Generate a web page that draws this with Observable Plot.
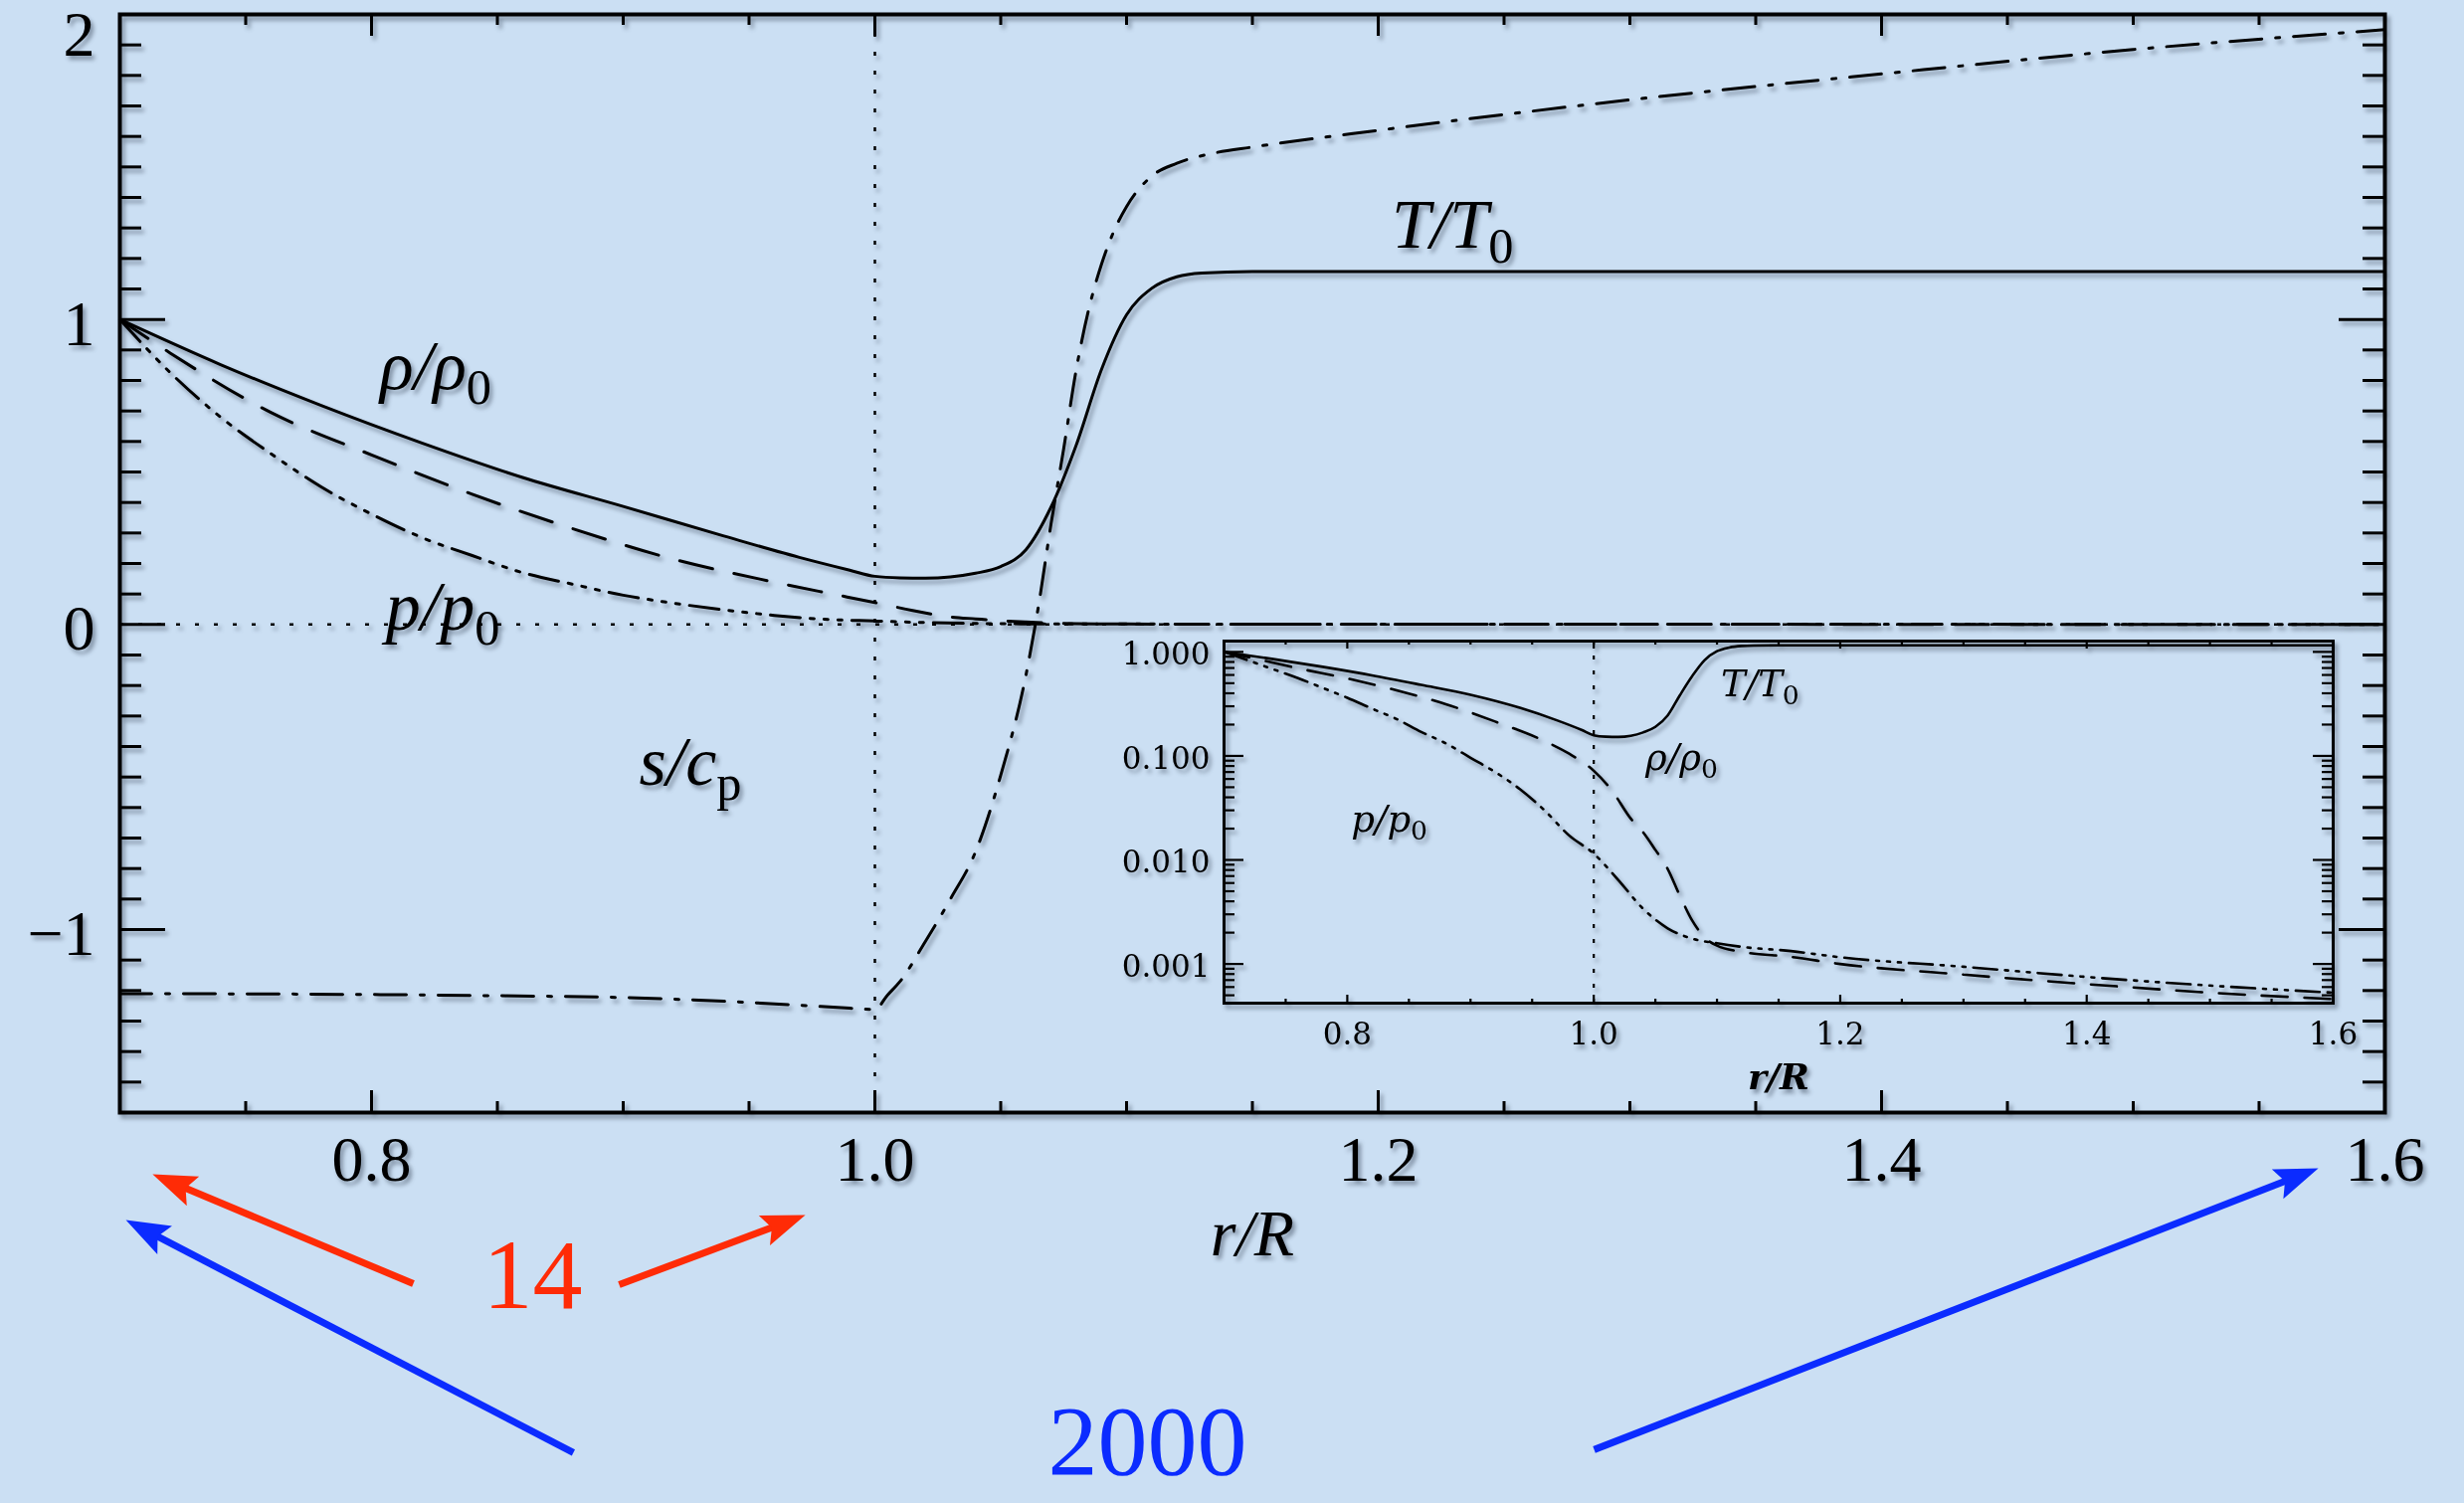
<!DOCTYPE html>
<html>
<head>
<meta charset="utf-8">
<script src="https://cdn.jsdelivr.net/npm/d3@7"></script>
<script src="https://cdn.jsdelivr.net/npm/@observablehq/plot@0.6"></script>
<style>
  html, body { margin: 0; padding: 0; background: #cbdff3; overflow: hidden; }
  #chart { position: relative; width: 2477px; height: 1511px; }
  #chart svg { position: absolute; overflow: visible; }
  .shadowed { filter: drop-shadow(3px 4px 2px rgba(25, 35, 55, 0.42)); }
</style>
</head>
<body>
<div id="chart"></div>
<script>
// Radial profiles against r/R: temperature, density, pressure (normalised) and entropy
const rT     = [0.70, 0.74, 0.78, 0.82, 0.86, 0.90, 0.94, 0.97, 0.99, 1.00, 1.01, 1.02, 1.03, 1.04, 1.05, 1.06, 1.07, 1.08, 1.09, 1.10, 1.11, 1.12, 1.13, 1.15, 1.60];
const tempT  = [1.000, 0.852, 0.718, 0.595, 0.482, 0.387, 0.290, 0.220, 0.178, 0.158, 0.153, 0.152, 0.156, 0.168, 0.190, 0.245, 0.385, 0.588, 0.835, 1.015, 1.102, 1.140, 1.152, 1.157, 1.157];

const rRho   = [0.70, 0.72, 0.76, 0.80, 0.84, 0.88, 0.92, 0.96, 0.98, 1.00, 1.015, 1.03, 1.04, 1.05, 1.06, 1.07, 1.08, 1.09, 1.10, 1.12, 1.16, 1.20, 1.30, 1.40, 1.50, 1.60];
const rho    = [1.000, 0.890, 0.695, 0.556, 0.427, 0.314, 0.214, 0.139, 0.105, 0.072, 0.046, 0.025, 0.0185, 0.0125, 0.0082, 0.0045, 0.0026, 0.0018, 0.00150, 0.00131, 0.00117, 0.00100, 0.00079, 0.00064, 0.00053, 0.00046];

const rP     = [0.70, 0.72, 0.74, 0.76, 0.78, 0.80, 0.82, 0.84, 0.86, 0.88, 0.90, 0.92, 0.94, 0.96, 0.98, 1.00, 1.02, 1.04, 1.06, 1.08, 1.10, 1.12, 1.16, 1.20, 1.30, 1.40, 1.50, 1.60];
const pres   = [1.000, 0.826, 0.680, 0.560, 0.451, 0.362, 0.285, 0.226, 0.170, 0.132, 0.096, 0.070, 0.048, 0.030, 0.0172, 0.0115, 0.0064, 0.0034, 0.0022, 0.00175, 0.00158, 0.00146, 0.00133, 0.00116, 0.00094, 0.00075, 0.00062, 0.00053];

const rS     = [0.70, 0.80, 0.85, 0.90, 0.94, 0.97, 0.99, 1.00, 1.005, 1.01, 1.02, 1.03, 1.04, 1.05, 1.06, 1.065, 1.07, 1.075, 1.08, 1.085, 1.09, 1.095, 1.10, 1.11, 1.12, 1.135, 1.15, 1.20, 1.30, 1.40, 1.50, 1.60];
const entropy = [-1.210, -1.213, -1.217, -1.223, -1.235, -1.248, -1.258, -1.262, -1.215, -1.170, -1.040, -0.900, -0.745, -0.494, -0.167, 0.060, 0.330, 0.575, 0.835, 1.034, 1.180, 1.290, 1.370, 1.470, 1.512, 1.546, 1.565, 1.620, 1.720, 1.805, 1.885, 1.950];

// Tick values
const xMajor   = [0.8, 1.0, 1.2, 1.4, 1.6];
const yMajor   = [-1, 0, 1, 2];
const logMajor = [0.001, 0.01, 0.1, 1];

// Curve labels
const mainLabels  = [
  {x: 0.8255, y: 0.846,  label: "ρ/ρ_0"},
  {x: 1.2295, y: 1.310,  label: "T/T_0"},
  {x: 0.8283, y: 0.056,  label: "p/p_0"},
  {x: 0.9267, y: -0.452, label: "s/c_p"}
];
const insetLabels = [
  {x: 1.135,  y: 0.49,   label: "T/T_0"},
  {x: 1.0713, y: 0.095,  label: "ρ/ρ_0"},
  {x: 0.8341, y: 0.0245, label: "p/p_0"}
];

// Annotations below the axis
const arrowsRed  = [
  {x1: 0.8166, y1: -2.161, x2: 0.7181, y2: -1.820},
  {x1: 0.8984, y1: -2.164, x2: 0.9672, y2: -1.952}
];
const arrowsBlue = [
  {x1: 0.8802, y1: -2.715, x2: 0.7073, y2: -1.973},
  {x1: 1.2858, y1: -2.705, x2: 1.5684, y2: -1.799}
];
const notes = [
  {x: 0.864,  y: -2.135, label: "14",   color: "#ff2b06"},
  {x: 1.1083, y: -2.68,  label: "2000", color: "#0b2bff"}
];

const series = (xs, ys) => xs.map((r, i) => ({r, v: ys[i]}));
const T = series(rT, tempT), RHO = series(rRho, rho), P = series(rP, pres), S = series(rS, entropy);

const xMinor = d3.range(15, 32).filter(k => k % 4 !== 0).map(k => k / 20);
const yMinor = d3.range(-15, 20).filter(k => k % 10 !== 0).map(k => k / 10);

// Main panel layout
const W = 2477, H = 1511;
const mL = 120, mR = 80, mT = 14, mB = 393;
const fw = W - mL - mR, fh = H - mT - mB;
const xDomain = [0.7, 1.6], yDomain = [-1.6, 2.0];
const serif = "Liberation Serif";

const main = Plot.plot({
  width: W, height: H,
  marginLeft: mL, marginRight: mR, marginTop: mT, marginBottom: mB,
  x: {domain: xDomain, axis: null},
  y: {domain: yDomain, axis: null},
  style: {background: "transparent", overflow: "visible", fontFamily: serif},
  marks: [
    Plot.ruleY([0], {y: d => d, strokeWidth: 2.5, strokeDasharray: "4,15"}),
    Plot.ruleX([1.0], {x: d => d, strokeWidth: 2.5, strokeDasharray: "4,15"}),
    Plot.line(T,   {x: "r", y: "v", curve: "monotone-x", strokeWidth: 3}),
    Plot.line(RHO, {x: "r", y: "v", curve: "monotone-x", strokeWidth: 3, strokeDasharray: "34,22"}),
    Plot.line(P,   {x: "r", y: "v", curve: "monotone-x", strokeWidth: 3, strokeDasharray: "30,10,4,10,4,10,4,10"}),
    Plot.line(S,   {x: "r", y: "v", curve: "monotone-x", strokeWidth: 3, strokeDasharray: "32,14,4,14"}),
    // inward ticks on all four sides
    Plot.ruleX(xMajor.slice(0, -1), {x: d => d, insetTop: fh - 22, strokeWidth: 3}),
    Plot.ruleX(xMajor.slice(0, -1), {x: d => d, insetBottom: fh - 22, strokeWidth: 3}),
    Plot.ruleX(xMinor, {x: d => d, insetTop: fh - 11, strokeWidth: 3}),
    Plot.ruleX(xMinor, {x: d => d, insetBottom: fh - 11, strokeWidth: 3}),
    Plot.ruleY(yMajor.slice(0, -1), {y: d => d, insetRight: fw - 46, strokeWidth: 3}),
    Plot.ruleY(yMajor.slice(0, -1), {y: d => d, insetLeft: fw - 46, strokeWidth: 3}),
    Plot.ruleY(yMinor, {y: d => d, insetRight: fw - 22, strokeWidth: 3}),
    Plot.ruleY(yMinor, {y: d => d, insetLeft: fw - 22, strokeWidth: 3}),
    Plot.frame({strokeWidth: 4}),
    // tick labels
    Plot.text(xMajor, {x: d => d, frameAnchor: "bottom", dy: 68, text: d => d3.format(".1f")(d), fontSize: 64, fontFamily: serif}),
    Plot.text(yMajor.slice(0, -1), {y: d => d, frameAnchor: "left", dx: -25, dy: 5, textAnchor: "end", text: d => d3.format("d")(d), fontSize: 64, fontFamily: serif}),
    Plot.text(yMajor.slice(-1), {y: d => d, frameAnchor: "left", dx: -25, dy: 21, textAnchor: "end", text: d => d3.format("d")(d), fontSize: 64, fontFamily: serif}),
    Plot.text(["r/R"], {frameAnchor: "bottom", dy: 143, text: d => d, fontSize: 66, fontStyle: "italic", fontFamily: serif}),
    Plot.text(mainLabels, {x: "x", y: "y", text: "label", fontSize: 70, fontStyle: "italic", fontFamily: serif})
  ]
});

// Inset: the same profiles on a logarithmic scale
const iW = 1260, iH = 470, iL = 130, iR = 15, iT = 14, iB = 92;
const ifw = iW - iL - iR, ifh = iH - iT - iB;
const logDomain = [0.00042, 1.27];
const logMinor = [];
for (const e of [-4, -3, -2, -1]) for (let m = 2; m <= 9; ++m) {
  const v = m * Math.pow(10, e);
  if (v >= logDomain[0] && v <= logDomain[1]) logMinor.push(v);
}
const insetFont = "DejaVu Serif";

const inset = Plot.plot({
  width: iW, height: iH,
  marginLeft: iL, marginRight: iR, marginTop: iT, marginBottom: iB,
  x: {domain: xDomain, axis: null},
  y: {type: "log", domain: logDomain, axis: null},
  style: {background: "transparent", overflow: "visible", fontFamily: insetFont},
  marks: [
    Plot.ruleX([1.0], {x: d => d, strokeWidth: 2.2, strokeDasharray: "4,11"}),
    Plot.line(T,   {x: "r", y: "v", curve: "monotone-x", strokeWidth: 2.6}),
    Plot.line(RHO, {x: "r", y: "v", curve: "monotone-x", strokeWidth: 2.6, strokeDasharray: "26,17"}),
    Plot.line(P,   {x: "r", y: "v", curve: "monotone-x", strokeWidth: 2.6, strokeDasharray: "24,8,3,8,3,8,3,8"}),
    Plot.ruleX(xMajor.slice(0, -1), {x: d => d, insetTop: ifh - 8, strokeWidth: 2.2}),
    Plot.ruleX(xMajor.slice(0, -1), {x: d => d, insetBottom: ifh - 8, strokeWidth: 2.2}),
    Plot.ruleX(xMinor, {x: d => d, insetTop: ifh - 4, strokeWidth: 2.2}),
    Plot.ruleX(xMinor, {x: d => d, insetBottom: ifh - 4, strokeWidth: 2.2}),
    Plot.ruleY(logMajor, {y: d => d, insetRight: ifw - 20, strokeWidth: 2.2}),
    Plot.ruleY(logMajor, {y: d => d, insetLeft: ifw - 20, strokeWidth: 2.2}),
    Plot.ruleY(logMinor, {y: d => d, insetRight: ifw - 11, strokeWidth: 2.2}),
    Plot.ruleY(logMinor, {y: d => d, insetLeft: ifw - 11, strokeWidth: 2.2}),
    Plot.frame({strokeWidth: 3}),
    Plot.text(xMajor, {x: d => d, frameAnchor: "bottom", dy: 41, text: d => d3.format(".1f")(d), fontSize: 31, fontFamily: insetFont}),
    Plot.text(logMajor, {y: d => d, frameAnchor: "left", dx: -14, dy: 3, textAnchor: "end", text: d => d3.format(".3f")(d), fontSize: 31, fontFamily: insetFont}),
    Plot.text(["r/R"], {frameAnchor: "bottom", dy: 86, text: d => d, fontSize: 36, fontStyle: "italic", fontWeight: "bold", fontFamily: insetFont}),
    Plot.text(insetLabels, {x: "x", y: "y", text: "label", fontSize: 37, fontStyle: "italic", fontFamily: insetFont})
  ]
});

// Coloured annotations sharing the main panel's scales
const notesPlot = Plot.plot({
  width: W, height: H,
  marginLeft: mL, marginRight: mR, marginTop: mT, marginBottom: mB,
  x: {domain: xDomain, axis: null},
  y: {domain: yDomain, axis: null},
  style: {background: "transparent", overflow: "visible", fontFamily: serif},
  marks: [
    Plot.link(arrowsRed,  {x1: "x1", y1: "y1", x2: "x2", y2: "y2", stroke: "#ff2b06", strokeWidth: 7}),
    Plot.link(arrowsBlue, {x1: "x1", y1: "y1", x2: "x2", y2: "y2", stroke: "#0b2bff", strokeWidth: 7}),
    Plot.text(notes.slice(0, 1), {x: "x", y: "y", text: "label", fill: "color", fontSize: 100, fontFamily: serif}),
    Plot.text(notes.slice(1), {x: "x", y: "y", text: "label", fill: "color", fontSize: 100, fontFamily: serif})
  ]
});

const NS = "http://www.w3.org/2000/svg";

// Turn "a_b" labels into a base plus an upright subscript
function subscripts(svg) {
  svg.querySelectorAll("text").forEach(t => {
    const s = t.textContent;
    if (!s.includes("_")) return;
    const [base, sub] = s.split("_");
    t.textContent = "";
    const a = document.createElementNS(NS, "tspan");
    a.textContent = base;
    const b = document.createElementNS(NS, "tspan");
    b.textContent = sub;
    b.setAttribute("dy", "0.3em");
    b.setAttribute("font-size", "72%");
    b.setAttribute("font-style", "normal");
    t.appendChild(a);
    t.appendChild(b);
  });
}

// Filled, notched arrow heads at the end of each annotation link
function arrowHeads(svg) {
  const defs = document.createElementNS(NS, "defs");
  svg.insertBefore(defs, svg.firstChild);
  svg.querySelectorAll('g[aria-label="link"]').forEach((g, i) => {
    const color = g.getAttribute("stroke");
    const id = "arrow-head-" + i;
    const m = document.createElementNS(NS, "marker");
    m.setAttribute("id", id);
    m.setAttribute("viewBox", "-40 -20 60 40");
    m.setAttribute("markerWidth", 60);
    m.setAttribute("markerHeight", 40);
    m.setAttribute("markerUnits", "userSpaceOnUse");
    m.setAttribute("orient", "auto");
    m.setAttribute("refX", 0);
    m.setAttribute("refY", 0);
    const p = document.createElementNS(NS, "path");
    p.setAttribute("d", "M14,0L-30,-16L-22,0L-30,16Z");
    p.setAttribute("fill", color);
    p.setAttribute("stroke", "none");
    m.appendChild(p);
    defs.appendChild(m);
    g.querySelectorAll("path").forEach(path => path.setAttribute("marker-end", `url(#${id})`));
  });
}

subscripts(main);
subscripts(inset);
arrowHeads(notesPlot);

const chart = document.getElementById("chart");
main.style.left = "0px"; main.style.top = "0px";
main.classList.add("shadowed");
inset.style.left = "1100px"; inset.style.top = "630px";
inset.classList.add("shadowed");
notesPlot.style.left = "0px"; notesPlot.style.top = "0px";
chart.appendChild(main);
chart.appendChild(inset);
chart.appendChild(notesPlot);
</script>
</body>
</html>
